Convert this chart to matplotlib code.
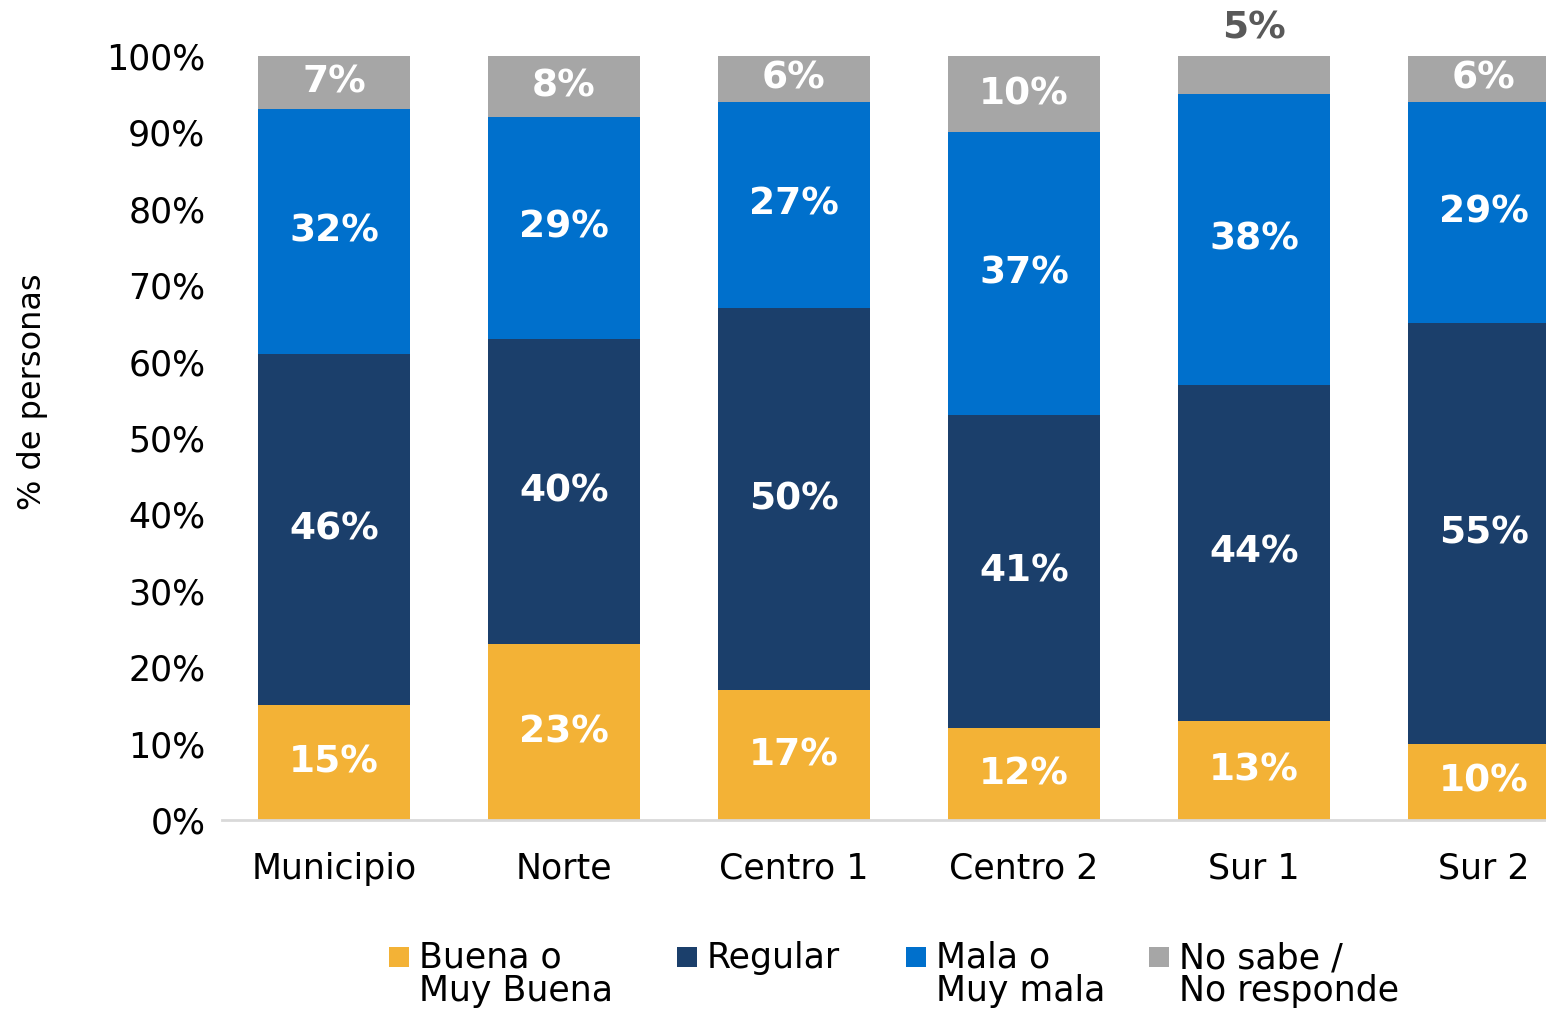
import matplotlib
matplotlib.use("Agg")
import matplotlib.pyplot as plt
from matplotlib.patches import Rectangle
import numpy as np

# Survey results: perception by zone (% of people)
categories = ["Municipio", "Norte", "Centro 1", "Centro 2", "Sur 1", "Sur 2"]
buena = [15, 23, 17, 12, 13, 10]
regular = [46, 40, 50, 41, 44, 55]
mala = [32, 29, 27, 37, 38, 29]
no_sabe = [7, 8, 6, 10, 5, 6]

series_names = ["Buena o\nMuy Buena", "Regular", "Mala o\nMuy mala", "No sabe /\nNo responde"]
colors = ["#F3B236", "#1B3F6B", "#0070CC", "#A6A6A6"]
yticks = [0, 10, 20, 30, 40, 50, 60, 70, 80, 90, 100]
ytick_labels = [f"{v}%" for v in yticks]

plt.rcParams["font.family"] = ["DejaVu Sans"]

W, H = 1546, 1010
fig = plt.figure(figsize=(W / 100, H / 100), dpi=100)
ax = fig.add_axes([222 / W, (H - 820) / H, 1 - 222 / W, (820 - 56) / H])

x = np.arange(len(categories))
width = 0.66
series = [buena, regular, mala, no_sabe]
bottom = np.zeros(len(categories))
for vals, col in zip(series, colors):
    vals = np.array(vals, dtype=float)
    ax.bar(x, vals, width, bottom=bottom, color=col, edgecolor="none")
    for xi, b, v in zip(x, bottom, vals):
        if col == colors[3] and v <= 5:
            # small segment: label sits above the bar
            ax.text(xi, b + v + 1.3, f"{v:.0f}%", ha="center", va="bottom",
                    fontsize=27, fontweight="bold", color="#595959", clip_on=False)
        else:
            ax.text(xi, b + v / 2, f"{v:.0f}%", ha="center", va="center",
                    fontsize=27, fontweight="bold", color="white")
    bottom += vals

ax.set_xlim(-0.487, 5.27)
ax.set_ylim(0, 100)
ax.set_yticks(yticks)
ax.set_yticklabels(ytick_labels, fontsize=25)
ax.set_xticks(x)
ax.set_xticklabels(categories, fontsize=25)
ax.tick_params(axis="both", length=0)
ax.tick_params(axis="x", pad=23)
ax.tick_params(axis="y", pad=12)
for s in ["top", "right", "left"]:
    ax.spines[s].set_visible(False)
ax.spines["bottom"].set_color("#D9D9D9")
ax.spines["bottom"].set_linewidth(2)

fig.text(33 / W, (H - 392) / H, "% de personas", rotation=90, ha="center",
         va="center", fontsize=23)

# Legend: square swatch aligned with the first line of each label
swatch_x = [389, 677, 906, 1149]
for sx, name, col in zip(swatch_x, series_names, colors):
    fig.patches.append(Rectangle((sx / W, (H - 967) / H), 20 / W, 20 / H,
                                 transform=fig.transFigure, facecolor=col,
                                 edgecolor="none"))
    fig.text((sx + 30) / W, (H - 941) / H, name, ha="left", va="top",
             fontsize=25, linespacing=0.95,
             transform=fig.transFigure)

fig.savefig("out.png", dpi=100)
